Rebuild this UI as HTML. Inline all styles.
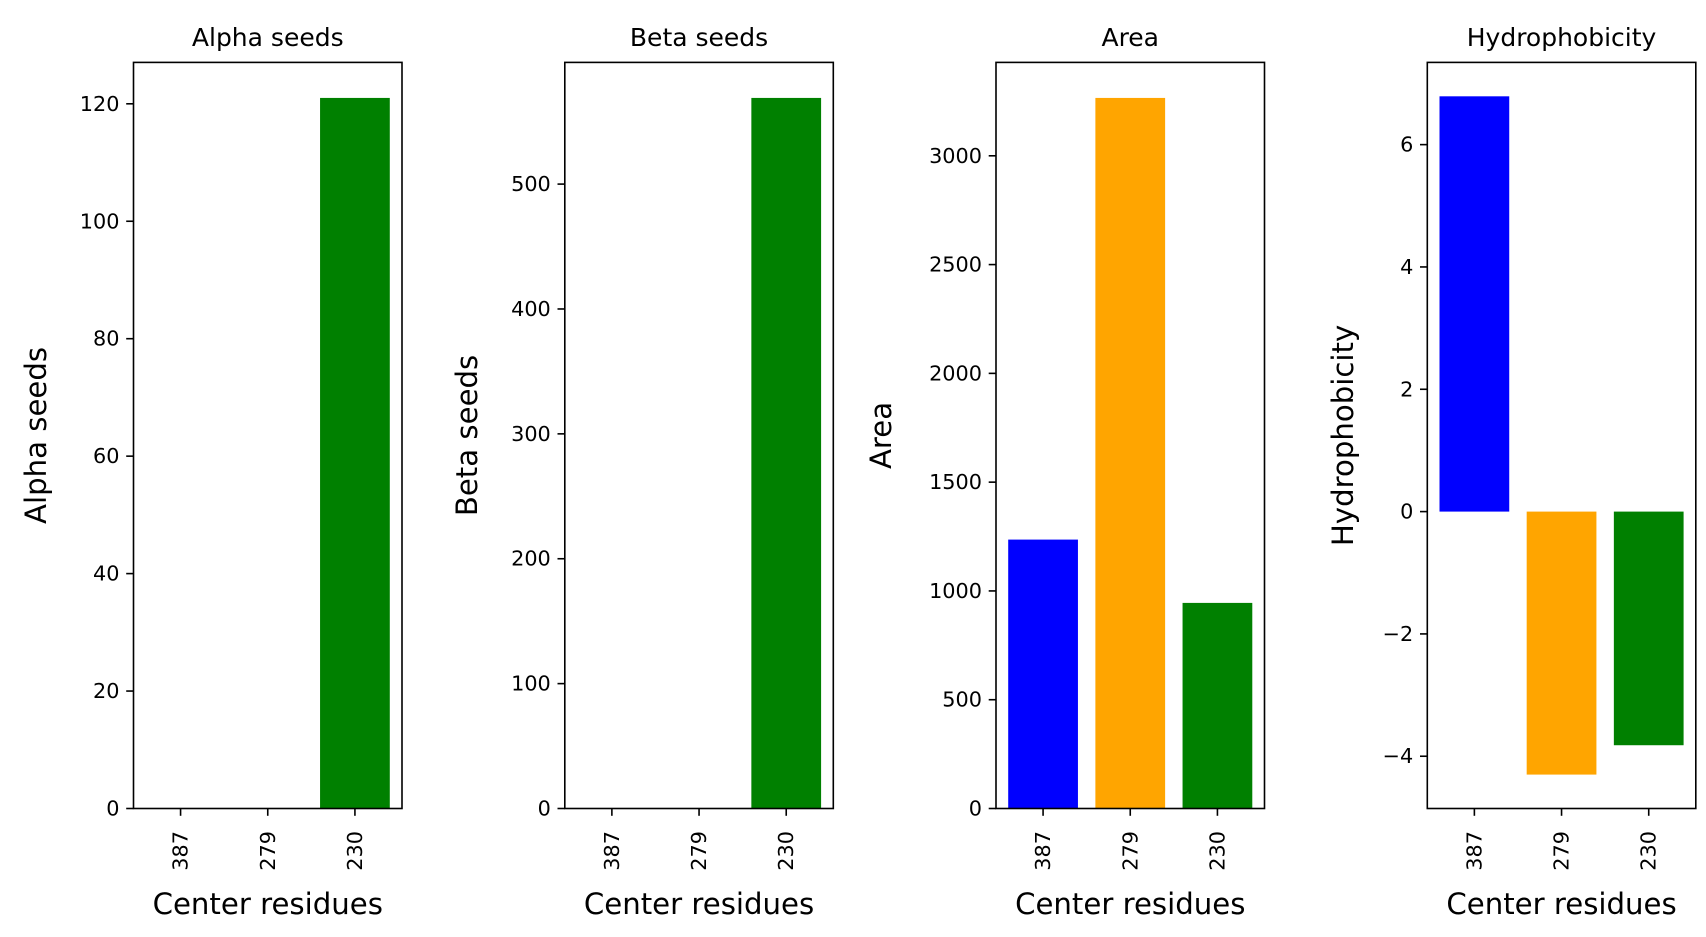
<!DOCTYPE html>
<html><head><meta charset="utf-8"><style>
html,body{margin:0;padding:0;background:#fff;}
svg{display:block;font-family:"DejaVu Sans","Liberation Sans",sans-serif;}
</style></head><body>
<svg id="fig" width="1706" height="937" viewBox="0 0 1706 937" xmlns="http://www.w3.org/2000/svg"></svg>
<script>
const categories = ["387","279","230"];
const colors = ["blue","orange","green"];
const alphaSeeds = [0,0,121];
const betaSeeds = [0,0,569];
const areaValues = [1236,3266,945];
const hydroValues = [6.79,-4.30,-3.82];
const alphaTicks = [0,20,40,60,80,100,120];
const betaTicks = [0,100,200,300,400,500];
const areaTicks = [0,500,1000,1500,2000,2500,3000];
const hydroTicks = [-4,-2,0,2,4,6];

const NS="http://www.w3.org/2000/svg";
const svgEl=document.getElementById('fig');
function mk(tag,attrs,parent){const e=document.createElementNS(NS,tag);for(const k in attrs)e.setAttribute(k,attrs[k]);(parent||svgEl).appendChild(e);return e;}
const axTop=62.4,axBottom=808.5,W=268.5;
const panels=[
 {left:133.5,title:"Alpha seeds",vals:alphaSeeds,ticks:alphaTicks,ylx:36,key:"alpha"},
 {left:564.8,title:"Beta seeds",vals:betaSeeds,ticks:betaTicks,ylx:467,key:"beta"},
 {left:996,title:"Area",vals:areaValues,ticks:areaTicks,ylx:881,key:"area"},
 {left:1427.3,title:"Hydrophobicity",vals:hydroValues,ticks:hydroTicks,ylx:1343,key:"hydro"}
];
panels.forEach(p=>{
  const g=mk('g',{});
  
  
  let lo=Math.min(0,...p.vals),hi=Math.max(0,...p.vals);
  const m=(hi-lo)*0.05; const y0=lo<0?lo-m:0, y1=hi+m;
  const ys=v=>axBottom-(v-y0)/(y1-y0)*(axBottom-axTop);
  const n=categories.length;
  const xmin=-0.4-0.05*(n-1+0.8), xmax=n-1+0.4+0.05*(n-1+0.8);
  const xs=v=>p.left+(v-xmin)/(xmax-xmin)*W;
  p.vals.forEach((v,i)=>{
    const a=ys(Math.max(v,0)),b=ys(Math.min(v,0));
    const r=mk('rect',{x:xs(i-0.4),y:a,width:xs(i+0.4)-xs(i-0.4),height:Math.max(0,b-a),fill:colors[i]},g);
    
    
  });
  const fr=mk('rect',{x:p.left,y:axTop,width:W,height:axBottom-axTop,fill:'none',stroke:'#000','stroke-width':1.6},g);
  
  
  p.ticks.forEach(t=>{
    const y=ys(t);
    mk('line',{x1:p.left-7.3,x2:p.left,y1:y,y2:y,stroke:'#000','stroke-width':1.6},g);
    const tx=mk('text',{x:p.left-14,y:y,'text-anchor':'end','dominant-baseline':'central','font-size':20.8,fill:'#000'},g);
    tx.textContent=t<0?'\u2212'+Math.abs(t):String(t);
    
    
  });
  categories.forEach((c,i)=>{
    const x=xs(i);
    mk('line',{x1:x,x2:x,y1:axBottom,y2:axBottom+7.3,stroke:'#000','stroke-width':1.6},g);
    const tx=mk('text',{x:x,y:831,'text-anchor':'end','dominant-baseline':'central','font-size':20.8,fill:'#000',transform:`rotate(-90 ${x} 831)`},g);
    tx.textContent=c;
    
    
  });
  const cx=p.left+W/2;
  const tt=mk('text',{x:cx,y:46,'text-anchor':'middle','font-size':25,fill:'#000'},g);
  tt.textContent=p.title;
  
  
  const xl=mk('text',{x:cx,y:914,'text-anchor':'middle','font-size':29.2,fill:'#000'},g);
  xl.textContent='Center residues';
  
  
  const cy=(axTop+axBottom)/2;
  const yl=mk('text',{x:p.ylx,y:cy,'text-anchor':'middle','dominant-baseline':'central','font-size':29.2,fill:'#000',transform:`rotate(-90 ${p.ylx} ${cy})`},g);
  yl.textContent=p.title;
  
  
});
</script>
</body></html>
